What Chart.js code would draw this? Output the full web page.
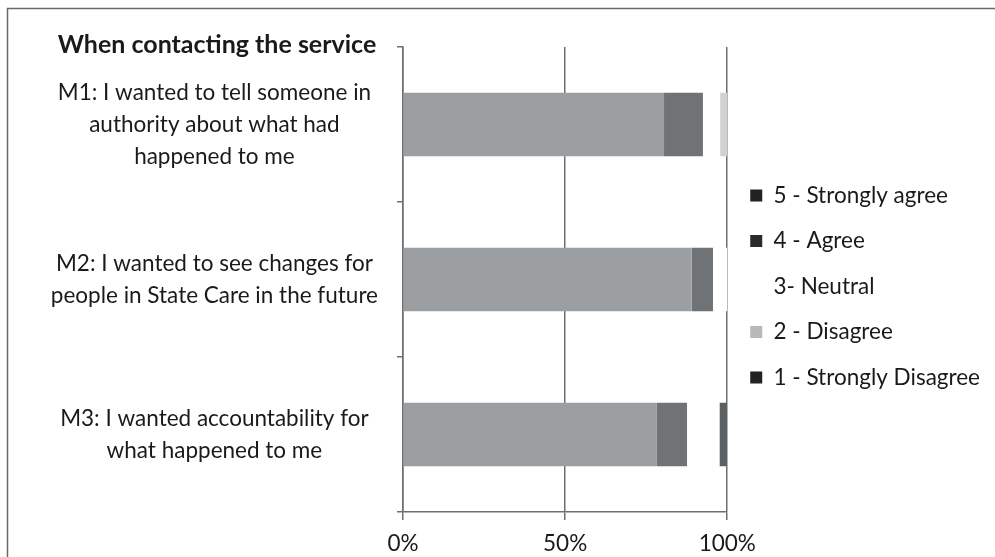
<!DOCTYPE html>
<html>
<head>
<meta charset="utf-8">
<script src="https://cdn.jsdelivr.net/npm/chart.js@4.4.1/dist/chart.umd.min.js"></script>
<style>
  html, body { margin: 0; padding: 0; background: #fff; }
  #wrap { width: 995px; height: 557px; }
</style>
</head>
<body>
<div id="wrap"><canvas id="surveyChart" width="995" height="557"></canvas></div>
<script>
const categories = [
    ['M1: I wanted to tell someone in', 'authority about what had', 'happened to me'],
    ['M2: I wanted to see changes for', 'people in State Care in the future'],
    ['M3: I wanted accountability for', 'what happened to me']
];
const seriesNames = ['5 - Strongly agree', '4 - Agree', '3- Neutral', '2 - Disagree', '1 - Strongly Disagree'];
const stronglyAgree = [80.5, 89.0, 78.3];
const agree = [12.0, 6.6, 9.3];
const neutral = [5.3, 4.4, 10.0];
const disagree = [2.2, 0, 0];
const stronglyDisagree = [0, 0, 2.4];
const xTicks = [0, 50, 100];
const chartTitle = 'When contacting the service';

const FONT = 'Lato, "Open Sans", sans-serif';
const barColors = ['#9b9fa1', '#6f7375', '#ffffff', '#d2d2d2', '#5c6062'];
const keyColors = ['#222222', '#2a2a2a', '#ffffff', '#b8b8b8', '#222222'];

// frame + title drawn on canvas
const decor = {
    id: 'decor',
    beforeDraw(chart) {
        const ctx = chart.ctx;
        ctx.save();
        ctx.strokeStyle = '#6a6a6a';
        ctx.lineWidth = 1.5;
        ctx.beginPath();
        ctx.moveTo(7.5, 557);
        ctx.lineTo(7.5, 8.5);
        ctx.lineTo(995, 8.5);
        ctx.stroke();
        ctx.restore();
    },
    afterDraw(chart) {
        const ctx = chart.ctx;
        ctx.save();
        ctx.font = 'bold 25px ' + FONT;
        ctx.fillStyle = '#1a1a1a';
        ctx.textAlign = 'center';
        ctx.textBaseline = 'middle';
        ctx.fillText(chartTitle, 217, 45);
        ctx.restore();
    }
};

const allSeries = [stronglyAgree, agree, neutral, disagree, stronglyDisagree];

new Chart(document.getElementById('surveyChart'), {
    type: 'bar',
    data: {
        labels: categories,
        datasets: allSeries.map((vals, i) => ({
            label: seriesNames[i],
            data: vals,
            backgroundColor: barColors[i],
            borderWidth: 0,
            categoryPercentage: 1,
            barPercentage: 0.41
        }))
    },
    options: {
        indexAxis: 'y',
        responsive: false,
        animation: false,
        layout: { padding: { top: 47, right: 5, bottom: 0, left: 0 } },
        scales: {
            x: {
                position: 'bottom',
                stacked: true,
                min: 0,
                max: 100,
                afterBuildTicks: s => { s.ticks = xTicks.map(v => ({ value: v })); },
                afterFit: s => { s.height = 45; },
                grid: { color: '#6f6f6f', lineWidth: 1.5, tickLength: 8, drawOnChartArea: true },
                border: { display: true, color: '#6f6f6f', width: 1.5 },
                ticks: {
                    padding: 10,
                    color: '#1a1a1a',
                    font: { family: FONT, size: 22.5 },
                    callback: v => v + '%'
                }
            },
            y: {
                stacked: true,
                afterFit: s => { s.width = 403; s.paddingTop = 0; s.paddingBottom = 0; },
                grid: { offset: true, drawOnChartArea: false, tickLength: 6, color: '#6f6f6f', lineWidth: 1.5 },
                border: { display: true, color: '#6f6f6f', width: 1.5 },
                ticks: {
                    crossAlign: 'center',
                    padding: 19,
                    color: '#1a1a1a',
                    font: { family: FONT, size: 22.5, lineHeight: 1.42 }
                }
            }
        },
        plugins: {
            legend: {
                position: 'right',
                align: 'center',
                fullSize: false,
                maxWidth: 268,
                title: { display: true, text: ' ', padding: 2, font: { size: 10, lineHeight: 1 } },
                labels: {
                    boxWidth: 12,
                    boxHeight: 12,
                    padding: 23,
                    color: '#1a1a1a',
                    font: { family: FONT, size: 22.5 },
                    generateLabels: chart => chart.data.datasets.map((ds, i) => ({
                        text: ds.label,
                        fillStyle: keyColors[i],
                        strokeStyle: keyColors[i],
                        lineWidth: 0,
                        fontColor: '#1a1a1a',
                        hidden: false,
                        datasetIndex: i
                    }))
                }
            },
            tooltip: { enabled: false }
        }
    },
    plugins: [decor]
});
</script>
</body>
</html>
